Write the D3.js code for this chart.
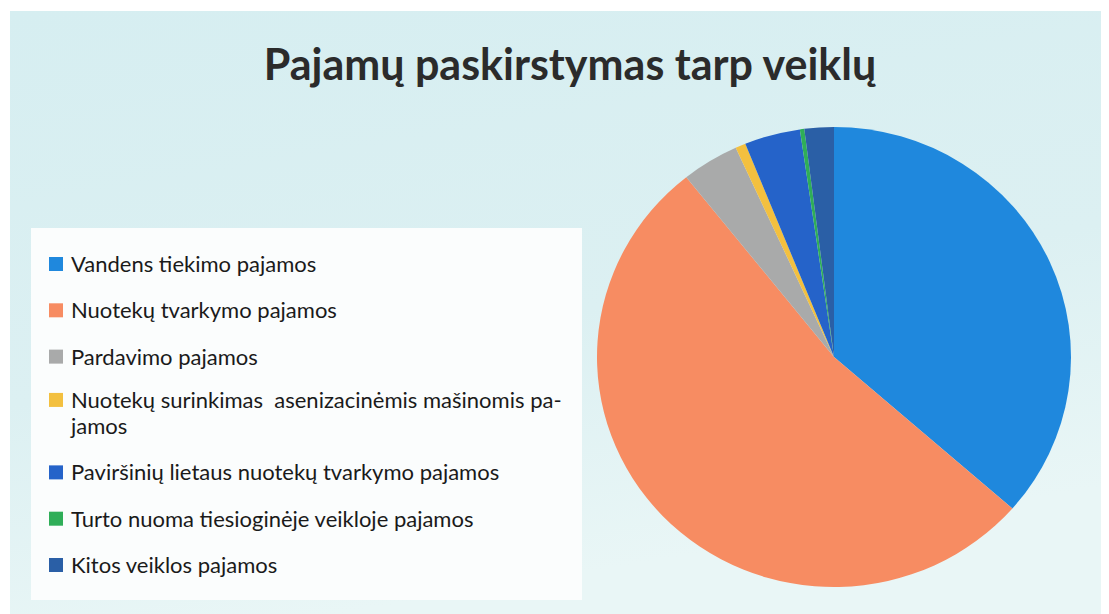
<!DOCTYPE html>
<html>
<head>
<meta charset="utf-8">
<script src="https://cdn.jsdelivr.net/npm/d3@7"></script>
<style>
  body { margin: 0; background: #fff; }
  text { font-family: Lato, "Open Sans", sans-serif; fill: #1a1a1a; white-space: pre; }
</style>
</head>
<body>
<svg width="1109" height="614"></svg>
<script>
// chart data
var categories = [
    ["Vandens tiekimo pajamos"],
    ["Nuotekų tvarkymo pajamos"],
    ["Pardavimo pajamos"],
    ["Nuotekų surinkimas  asenizacinėmis mašinomis pa-", "jamos"],
    ["Paviršinių lietaus nuotekų tvarkymo pajamos"],
    ["Turto nuoma tiesioginėje veikloje pajamos"],
    ["Kitos veiklos pajamos"]
];
var shares = [36.4, 52.8, 3.9, 0.7, 3.8, 0.3, 2.0];
var colors = ["#1f88dd", "#f78c62", "#a9aaaa", "#f3c03f", "#2563c9", "#2fae58", "#2a5fa6"];
var title = "Pajamų paskirstymas tarp veiklų";

var svg = d3.select("svg");
var width = +svg.attr("width");
var height = +svg.attr("height");

// panel background
var defs = svg.append("defs");
var grad = defs.append("linearGradient")
    .attr("id", "bg")
    .attr("x1", 0).attr("y1", 0).attr("x2", 0.3).attr("y2", 1);
grad.append("stop").attr("offset", 0).attr("stop-color", "#d6eef1");
grad.append("stop").attr("offset", 0.6).attr("stop-color", "#dcf0f2");
grad.append("stop").attr("offset", 1).attr("stop-color", "#e9f6f6");

svg.append("rect")
    .attr("x", 10).attr("y", 11)
    .attr("width", width - 18).attr("height", height - 11)
    .attr("fill", "url(#bg)");

// title
svg.append("text")
    .attr("x", 570)
    .attr("y", 80)
    .attr("text-anchor", "middle")
    .style("font-size", "43px")
    .style("font-weight", "bold")
    .style("fill", "#2b2b2b")
    .text(title);

// legend box
svg.append("rect")
    .attr("x", 31).attr("y", 228)
    .attr("width", 551).attr("height", 372)
    .attr("fill", "#fbfdfd");

// row slots; the two-line entry takes an extra half slot
var rowY = d3.scaleLinear()
    .domain([0, 6.5])
    .range([264, 565]);

var legend = svg.append("g")
    .selectAll("g")
    .data(categories)
    .enter().append("g")
    .attr("transform", function (d, i) {
        return "translate(0," + (rowY(i + (i > 3 ? 0.5 : 0)) - (i === 3 ? 3 : 0)) + ")";
    });

legend.append("rect")
    .attr("x", 49).attr("y", -7)
    .attr("width", 14).attr("height", 14)
    .attr("fill", function (d, i) { return colors[i]; });

// one text per line so wrapped lines sit apart
legend.each(function (lines) {
    var g = d3.select(this);
    lines.forEach(function (line, j) {
        g.append("text")
            .attr("x", 71)
            .attr("y", 8 + j * 26)
            .style("font-size", "22px")
            .text(line);
    });
});

// pie
var cx = 834, cy = 357, rx = 237, ry = 230;
var pie = d3.pie()
    .sort(null)
    .value(function (d) { return d; });
var arc = d3.arc()
    .innerRadius(0)
    .outerRadius(rx);

svg.append("g")
    .attr("transform", "translate(" + cx + "," + cy + ") scale(1," + (ry / rx) + ")")
    .selectAll("path")
    .data(pie(shares))
    .enter().append("path")
    .attr("d", arc)
    .attr("fill", function (d, i) { return colors[i]; });
</script>
</body>
</html>
